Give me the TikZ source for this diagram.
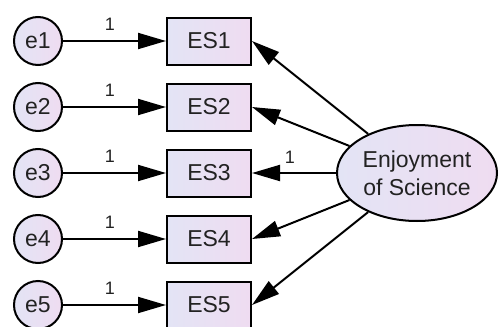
\documentclass[tikz,border=0pt]{standalone}
\usepackage{fontspec}
\setmainfont{Liberation Sans}
\usetikzlibrary{arrows.meta,shapes.geometric}
\definecolor{fillL}{HTML}{E3E4F5}
\definecolor{fillR}{HTML}{EFDCF1}
\definecolor{txt}{HTML}{222222}
\begin{document}
\begin{tikzpicture}[x=1pt,y=-1pt,
  err/.style={circle, draw, line width=2pt, minimum size=48pt, inner sep=0pt,
    left color=fillL, right color=fillR, text=txt, font=\fontsize{23}{27}\selectfont},
  obs/.style={rectangle, draw, line width=2pt, minimum width=84pt, minimum height=47pt,
    inner sep=0pt, left color=fillL, right color=fillR, text=txt, font=\fontsize{23}{27}\selectfont},
  lat/.style={ellipse, draw, line width=2pt, minimum width=160pt, minimum height=96pt,
    inner sep=0pt, align=center, left color=fillL, right color=fillR, text=txt,
    font=\fontsize{23}{28}\selectfont},
  reg/.style={line width=2pt, -{Triangle[length=28pt,width=16pt]}},
  lbl/.style={text=txt, font=\fontsize{18}{18}\selectfont, inner sep=0pt}]
\path[use as bounding box, clip] (0,0) rectangle (499,327);
\foreach \i/\y in {1/41,2/107,3/173,4/239,5/305}{
  \node[err] (e\i) at (38,\y) {e\i};
  \node[obs] (ES\i) at (209,\y) {ES\i};
  \draw[reg] (e\i) -- (ES\i);
  \node[lbl] (l\i) at (110,\y-17) {1};
}
\node[lat] (F) at (417,173) {Enjoyment\\of Science};
\draw[reg] (F) -- (ES1.east);
\draw[reg] (F) -- (ES2.east);
\draw[reg] (F) -- (ES3.east);
\draw[reg] (F) -- (ES4.east);
\draw[reg] (F) -- (ES5.east);
\node[lbl] (lF) at (290,157) {1};
\end{tikzpicture}
\end{document}
